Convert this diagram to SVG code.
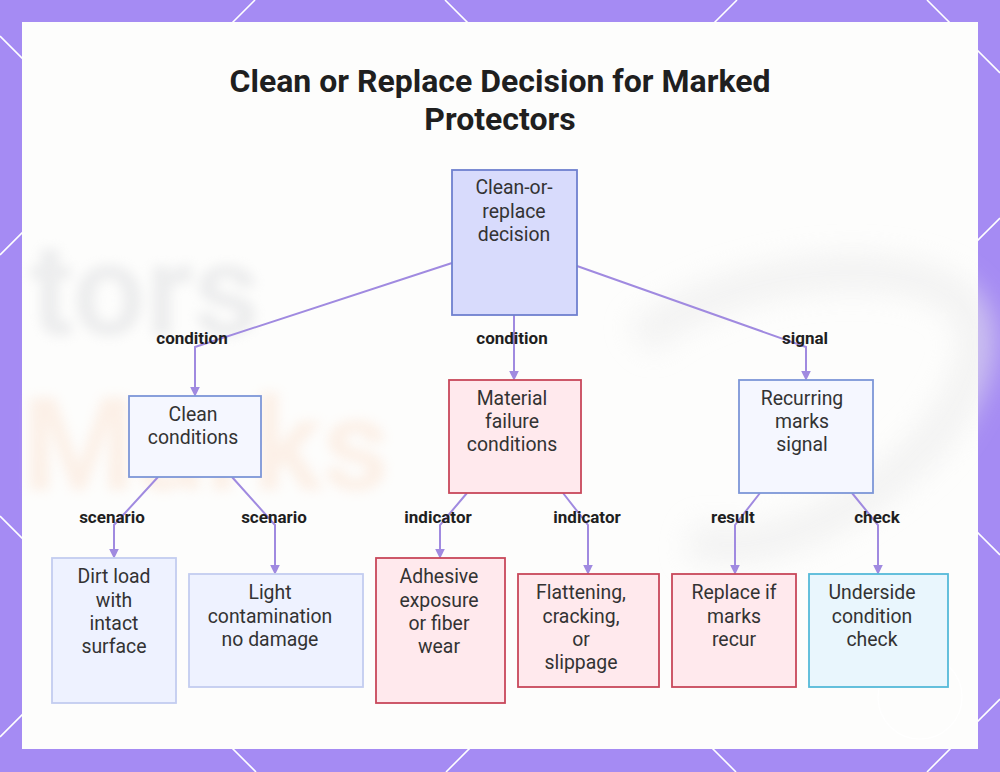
<svg xmlns="http://www.w3.org/2000/svg" width="1000" height="772" viewBox="0 0 1000 772">
<defs>
<style>
.title{font-family:Roboto,"Liberation Sans",sans-serif;font-weight:700;font-size:32px;fill:#1f1f1f;text-anchor:middle}
.nt{font-family:Roboto,"Liberation Sans",sans-serif;font-size:19.4px;fill:#333;text-anchor:middle}
.lbl{font-family:Roboto,"Liberation Sans",sans-serif;font-weight:700;font-size:17px;fill:#1f1f1f;text-anchor:middle}
.edge{fill:none;stroke:#a08ae0;stroke-width:2}
.lat{stroke:#ffffff;stroke-width:1.6}
.root{fill:#d8dbfc;stroke:#6f80cf;stroke-width:1.8}
.blue{fill:#f5f7ff;stroke:#7d96d8;stroke-width:1.8}
.blueL{fill:#eef2ff;stroke:#c3cdf0;stroke-width:1.8}
.red{fill:#ffe9ed;stroke:#c8485a;stroke-width:1.8}
.cyan{fill:#e9f6fd;stroke:#55bad9;stroke-width:1.8}
</style>
<marker id="ah" viewBox="0 0 6 6" refX="5" refY="3" markerWidth="5" markerHeight="5" orient="auto">
<path d="M0,0 L6,3 L0,6 z" fill="#a08ae0"/>
</marker>
<filter id="blur" x="-20%" y="-20%" width="140%" height="140%"><feGaussianBlur stdDeviation="6"/></filter>
<filter id="blur2" x="-30%" y="-30%" width="160%" height="160%"><feGaussianBlur stdDeviation="14"/></filter>
</defs>
<rect width="1000" height="772" fill="#a58bf3"/>
<g id="lattice">
<line class="lat" x1="255" y1="0" x2="0" y2="255"/>
<line class="lat" x1="737" y1="0" x2="0" y2="737"/>
<line class="lat" x1="1000" y1="218" x2="446" y2="772"/>
<line class="lat" x1="1000" y1="699" x2="927" y2="772"/>
<line class="lat" x1="0" y1="36" x2="736" y2="772"/>
<line class="lat" x1="0" y1="516" x2="256" y2="772"/>
<line class="lat" x1="445" y1="0" x2="1000" y2="555"/>
<line class="lat" x1="927" y1="0" x2="1000" y2="73"/>
</g>
<rect x="22" y="22" width="956" height="727" fill="#fdfdfc"/>
<g id="watermark">
<g filter="url(#blur)" opacity="0.45">
<text x="30" y="335" font-family="Roboto,'Liberation Sans',sans-serif" font-weight="700" font-size="130" fill="#d9dadd">tors</text>
<text x="22" y="490" font-family="Roboto,'Liberation Sans',sans-serif" font-weight="700" font-size="130" fill="#fbe1cf">Marks</text>
</g>
<path d="M640,340 C720,270 900,250 960,300 C1000,340 960,420 900,470 C840,520 760,560 690,540" fill="none" stroke="#ececec" stroke-width="36" filter="url(#blur2)" opacity="0.6"/>
<circle cx="920" cy="697" r="42" fill="none" stroke="#ffffff" stroke-width="1.5" opacity="0.8"/>
</g>
<text class="title" x="500" y="92">Clean or Replace Decision for Marked</text>
<text class="title" x="500" y="130">Protectors</text>
<g id="connectors">
<path class="edge" d="M452,263 L195,347 L195,395" marker-end="url(#ah)"/>
<path class="edge" d="M514,315 L514,379" marker-end="url(#ah)"/>
<path class="edge" d="M577,266 L806,347 L806,379" marker-end="url(#ah)"/>
<path class="edge" d="M158,477 L114,525 L114,557" marker-end="url(#ah)"/>
<path class="edge" d="M232,477 L275,525 L275,573" marker-end="url(#ah)"/>
<path class="edge" d="M467,493 L440,525 L440,557" marker-end="url(#ah)"/>
<path class="edge" d="M563,493 L588,525 L588,573" marker-end="url(#ah)"/>
<path class="edge" d="M760,493 L735,525 L735,573" marker-end="url(#ah)"/>
<path class="edge" d="M852,493 L878,525 L878,573" marker-end="url(#ah)"/>
<text class="lbl" x="192" y="344">condition</text>
<text class="lbl" x="512" y="344">condition</text>
<text class="lbl" x="805" y="344">signal</text>
<text class="lbl" x="112" y="523">scenario</text>
<text class="lbl" x="274" y="523">scenario</text>
<text class="lbl" x="438" y="523">indicator</text>
<text class="lbl" x="587" y="523">indicator</text>
<text class="lbl" x="733" y="523">result</text>
<text class="lbl" x="877" y="523">check</text>
</g>
<g id="n-root"><rect class="root" x="452" y="170" width="125" height="145"/>
<text class="nt" x="514" y="194">Clean-or-</text><text class="nt" x="514" y="218">replace</text><text class="nt" x="514" y="241">decision</text></g>
<g id="n-clean"><rect class="blue" x="129" y="396" width="132" height="81"/>
<text class="nt" x="193" y="421">Clean</text><text class="nt" x="193" y="444">conditions</text></g>
<g id="n-material"><rect class="red" x="449" y="380" width="132" height="113"/>
<text class="nt" x="512" y="405">Material</text><text class="nt" x="512" y="428">failure</text><text class="nt" x="512" y="451">conditions</text></g>
<g id="n-recurring"><rect class="blue" x="739" y="380" width="134" height="113"/>
<text class="nt" x="802" y="405">Recurring</text><text class="nt" x="802" y="428">marks</text><text class="nt" x="802" y="451">signal</text></g>
<g id="n-dirt"><rect class="blueL" x="52" y="558" width="124" height="145"/>
<text class="nt" x="114" y="583">Dirt load</text><text class="nt" x="114" y="607">with</text><text class="nt" x="114" y="630">intact</text><text class="nt" x="114" y="653">surface</text></g>
<g id="n-light"><rect class="blueL" x="189" y="574" width="174" height="113"/>
<text class="nt" x="270" y="599">Light</text><text class="nt" x="270" y="623">contamination</text><text class="nt" x="270" y="646">no damage</text></g>
<g id="n-adhesive"><rect class="red" x="376" y="558" width="129" height="145"/>
<text class="nt" x="439" y="583">Adhesive</text><text class="nt" x="439" y="607">exposure</text><text class="nt" x="439" y="630">or fiber</text><text class="nt" x="439" y="653">wear</text></g>
<g id="n-flatten"><rect class="red" x="518" y="574" width="141" height="113"/>
<text class="nt" x="581" y="599">Flattening,</text><text class="nt" x="581" y="623">cracking,</text><text class="nt" x="581" y="646">or</text><text class="nt" x="581" y="669">slippage</text></g>
<g id="n-replace"><rect class="red" x="672" y="574" width="124" height="113"/>
<text class="nt" x="734" y="599">Replace if</text><text class="nt" x="734" y="623">marks</text><text class="nt" x="734" y="646">recur</text></g>
<g id="n-underside"><rect class="cyan" x="809" y="574" width="139" height="113"/>
<text class="nt" x="872" y="599">Underside</text><text class="nt" x="872" y="623">condition</text><text class="nt" x="872" y="646">check</text></g>
</svg>
